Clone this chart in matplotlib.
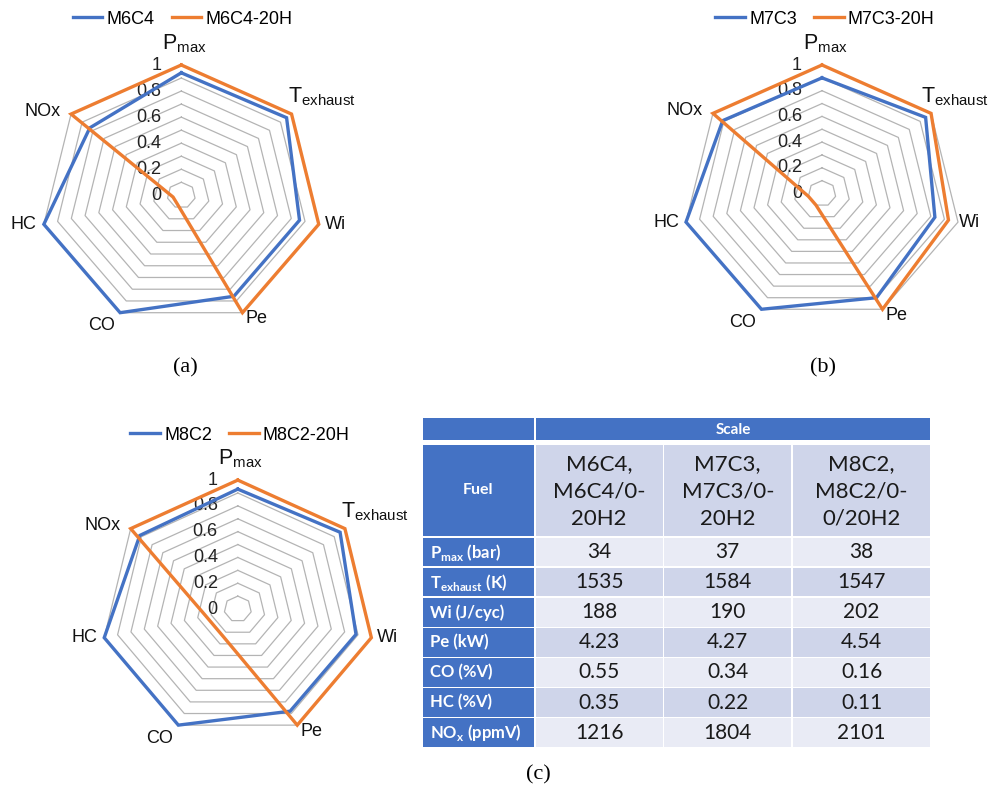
import numpy as np
import matplotlib
matplotlib.use("Agg")
import matplotlib.pyplot as plt
from matplotlib.patches import Rectangle

# ---------------- data ----------------
categories = ["P$_{\\mathregular{max}}$", "T$_{\\mathregular{exhaust}}$", "Wi", "Pe", "CO", "HC", "NOx"]

m6c4 = [0.94, 0.955, 0.86, 0.86, 1.00, 1.00, 0.83]
m6c4_20h = [1.00, 1.00, 1.00, 1.00, 0.07, 0.06, 1.00]

m7c3 = [0.90, 0.95, 0.83, 0.90, 1.00, 1.00, 0.91]
m7c3_20h = [1.00, 1.00, 0.93, 1.00, 0.10, 0.10, 1.00]

m8c2 = [0.93, 0.955, 0.885, 0.88, 1.00, 1.00, 0.915]
m8c2_20h = [1.00, 1.00, 1.00, 1.00, 0.24, 0.24, 1.00]

ring_levels = [0.1, 0.2, 0.3, 0.4, 0.5, 0.6, 0.7, 0.8, 0.9, 1.0]
tick_values = [0.0, 0.2, 0.4, 0.6, 0.8, 1.0]
tick_labels = ["0", "0.2", "0.4", "0.6", "0.8", "1"]

table_header = "Scale"
table_fuel = ["M6C4,\nM6C4/0-\n20H2", "M7C3,\nM7C3/0-\n20H2", "M8C2,\nM8C2/0-\n0/20H2"]
table_rows = ["P$_{\\mathregular{max}}$ (bar)", "T$_{\\mathregular{exhaust}}$ (K)", "Wi (J/cyc)",
              "Pe (kW)", "CO (%V)", "HC (%V)", "NO$_{\\mathregular{x}}$ (ppmV)"]
table_values = [
    ["34", "37", "38"],
    ["1535", "1584", "1547"],
    ["188", "190", "202"],
    ["4.23", "4.27", "4.54"],
    ["0.55", "0.34", "0.16"],
    ["0.35", "0.22", "0.11"],
    ["1216", "1804", "2101"],
]

# ---------------- style ----------------
W, H = 989, 794
BLUE = "#4472C4"
ORANGE = "#ED7D31"
GRID = "#B4B4B4"
plt.rcParams["font.family"] = ["Liberation Sans", "DejaVu Sans"]

fig = plt.figure(figsize=(W / 100, H / 100), dpi=100)
canvas = fig.add_axes([0, 0, 1, 1])
canvas.set_xlim(0, W)
canvas.set_ylim(H, 0)
canvas.axis("off")

n = len(categories)
theta = 2 * np.pi * np.arange(n) / n
ux, uy = np.sin(theta), np.cos(theta)

# label placement around each spoke: (ha, dx px, dy px, fontsize)
label_pos = [("center", 3, 21, 15.5), ("left", -4, 17, 15.5), ("left", 6, 0, 13),
             ("left", 3, -6, 13), ("right", -5, -13, 13), ("right", -7, 0, 13),
             ("right", -10, 3, 13)]


def radar(cx, cy, sx, sy, s1, s2, names, legend_xy, shift=None):
    shift = shift or {}
    ext = 1.3
    ax = fig.add_axes([(cx - ext * sx) / W, 1 - (cy + ext * sy) / H,
                       2 * ext * sx / W, 2 * ext * sy / H])
    ax.set_xlim(-ext, ext)
    ax.set_ylim(-ext, ext)
    ax.axis("off")
    for lv in ring_levels:
        ax.plot(np.append(ux, ux[0]) * lv, np.append(uy, uy[0]) * lv,
                color=GRID, lw=0.9, zorder=1, clip_on=False)
    for v, t in zip(tick_values, tick_labels):
        ax.annotate(t, xy=(0, v), xytext=(-20, 0), textcoords="offset pixels",
                    ha="right", va="center", fontsize=13, color="#222222", zorder=2)
    for k, name in enumerate(categories):
        ha, dx, dy, fs = label_pos[k]
        dx += shift.get(k, 0)
        ax.annotate(name, xy=(ux[k], uy[k]), xytext=(dx, dy), textcoords="offset pixels",
                    ha=ha, va="center", fontsize=fs, color="#111111", zorder=2)
    handles = []
    for vals, col, nm in ((s1, BLUE, names[0]), (s2, ORANGE, names[1])):
        v = np.array(vals)
        h, = ax.plot(np.append(ux * v, ux[0] * v[0]), np.append(uy * v, uy[0] * v[0]),
                     color=col, lw=2.4, zorder=3, solid_joinstyle="miter", clip_on=False,
                     label=nm)
        handles.append(h)
    ax.legend(handles=handles, ncol=2, loc="center",
              bbox_to_anchor=(legend_xy[0] / W, 1 - legend_xy[1] / H),
              bbox_transform=fig.transFigure, frameon=False, fontsize=13,
              handlelength=1.65, handletextpad=0.22, columnspacing=0.95)
    return ax


radar(181.3, 195.3, 141, 130.3, m6c4, m6c4_20h, ["M6C4", "M6C4-20H"], (182.5, 19))
radar(822.0, 193.5, 139.5, 128.5, m7c3, m7c3_20h, ["M7C3", "M7C3-20H"], (825, 19),
      shift={1: -6, 2: -5})
radar(237.8, 609.0, 137, 128.9, m8c2, m8c2_20h, ["M8C2", "M8C2-20H"], (240, 435))

serif = ["Liberation Serif", "DejaVu Serif"]
canvas.text(185, 368, "(a)", ha="center", va="center", fontsize=16, family=serif)
canvas.text(823, 368, "(b)", ha="center", va="center", fontsize=16, family=serif)
canvas.text(538, 775, "(c)", ha="center", va="center", fontsize=16, family=serif)

# ---------------- table ----------------
tfont = ["Lato", "DejaVu Sans"]
HEAD = "#4472C4"
DARK_ROW = "#CFD5EA"
LIGHT_ROW = "#E9EBF5"
col_edges = [422, 535, 663.5, 792, 931]
gap = 1.6


def cell(x0, x1, y0, y1, color):
    canvas.add_patch(Rectangle((x0 + gap / 2, y0 + gap / 2), x1 - x0 - gap, y1 - y0 - gap,
                               facecolor=color, edgecolor="none", zorder=1))


# "Scale" header row
cell(col_edges[0], col_edges[1], 417.5, 441, HEAD)
cell(col_edges[1], col_edges[4], 417.5, 441, HEAD)
canvas.text((col_edges[1] + col_edges[4]) / 2, 430, table_header, ha="center", va="center",
            color="white", fontsize=11, fontweight="bold", family=tfont, zorder=2)

# Fuel row
fy0, fy1 = 444, 537
cell(col_edges[0], col_edges[1], fy0, fy1, HEAD)
canvas.text((col_edges[0] + col_edges[1]) / 2, (fy0 + fy1) / 2, "Fuel", ha="center", va="center",
            color="white", fontsize=11.5, fontweight="bold", family=tfont, zorder=2)
for j, txt in enumerate(table_fuel):
    cell(col_edges[j + 1], col_edges[j + 2], fy0, fy1, DARK_ROW)
    canvas.text((col_edges[j + 1] + col_edges[j + 2]) / 2, (fy0 + fy1) / 2 + 1, txt,
                ha="center", va="center", fontsize=16, linespacing=1.45,
                color="#1a1a1a", family=tfont, zorder=2)

row_h = 30.1
for i, (name, vals) in enumerate(zip(table_rows, table_values)):
    y0 = fy1 + i * row_h
    y1 = y0 + row_h
    cell(col_edges[0], col_edges[1], y0, y1, HEAD)
    canvas.text(col_edges[0] + 8, (y0 + y1) / 2, name, ha="left", va="center", color="white",
                fontsize=12, fontweight="bold", family=tfont, zorder=2)
    shade = LIGHT_ROW if i % 2 == 0 else DARK_ROW
    for j, v in enumerate(vals):
        cell(col_edges[j + 1], col_edges[j + 2], y0, y1, shade)
        canvas.text((col_edges[j + 1] + col_edges[j + 2]) / 2, (y0 + y1) / 2, v,
                    ha="center", va="center", fontsize=15, color="#1a1a1a",
                    family=tfont, zorder=2)

fig.savefig("out.png", dpi=100)
